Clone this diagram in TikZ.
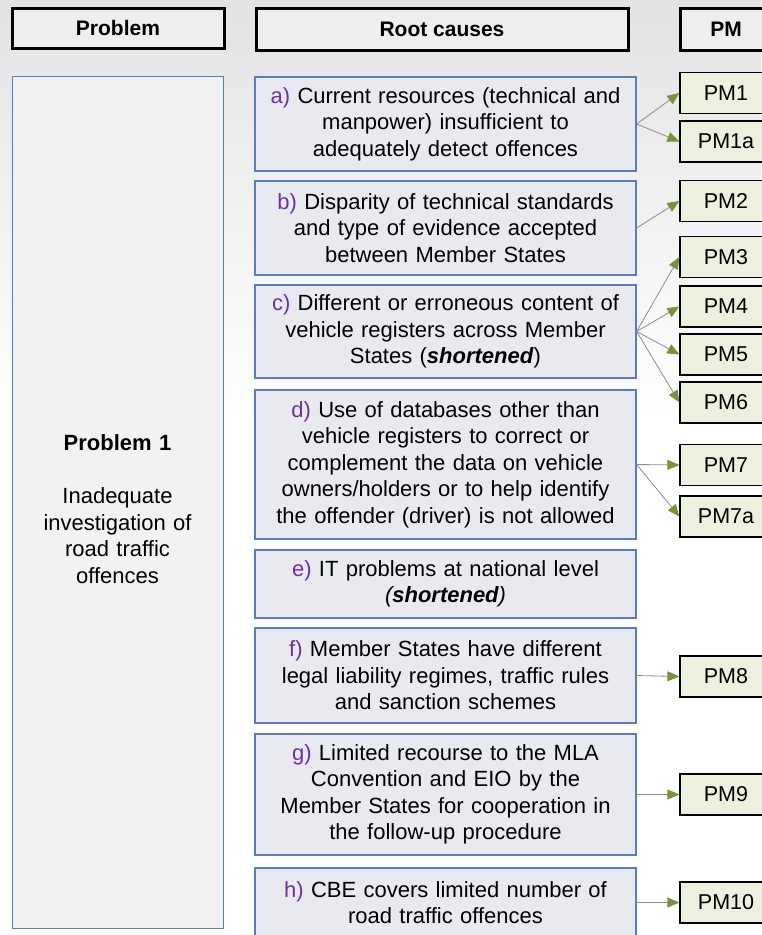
\documentclass[tikz,border=0pt]{standalone}
\usepackage{fontspec}
\setmainfont{Liberation Sans}
\usetikzlibrary{arrows.meta,positioning}

\definecolor{causeblue}{HTML}{5B7BC4}
\definecolor{causefill}{HTML}{E8EAF0}
\definecolor{probfill}{HTML}{F2F2F2}
\definecolor{pmfill}{HTML}{EBF1DE}
\definecolor{tipgreen}{HTML}{77933C}
\definecolor{letterpurple}{HTML}{7030A0}
\definecolor{headfill}{HTML}{EEEEEE}
\newcommand{\lbl}[1]{\textcolor{letterpurple}{#1)}}

\begin{document}
\begin{tikzpicture}[
    x=1pt, y=-1pt,
    header/.style={draw=black, line width=3pt, fill=headfill, inner sep=0pt, font=\fontsize{21}{24}\selectfont\bfseries},
    problem/.style={draw=causeblue, line width=1pt, fill=probfill, inner sep=0pt},
    probtext/.style={align=center, text width=200pt, inner sep=0pt, font=\fontsize{22}{26.5}\selectfont},
    cause/.style={draw=causeblue, line width=1.2pt, fill=causefill, align=center, inner xsep=4pt, inner ysep=0pt, text width=373pt, font=\fontsize{22}{26.5}\selectfont},
    pm/.style={draw=black, line width=1.2pt, fill=pmfill, minimum width=92pt, minimum height=41pt, inner sep=0pt, font=\fontsize{21.5}{24}\selectfont},
    link/.style={draw=black!45, line width=0.8pt, -{Triangle[length=12pt, width=10pt, color=tipgreen]}},
]

\useasboundingbox (0,0) rectangle (761,935);
\shade[top color=black!11, bottom color=white] (0,0) rectangle (761,420);

% Headers
\node[header, minimum width=212pt, minimum height=40pt] (hprob) at (118, 28) {Problem};
\node[header, minimum width=372pt, minimum height=42pt] (hcause) at (442, 29) {Root causes};
\node[header, minimum width=92pt, minimum height=42pt] (hpm) at (726, 29) {PM};

% Problem
\node[problem, minimum width=211pt, minimum height=852pt] (prob) at (117.5, 502) {};
\node[probtext] (probtxt) at ([yshift=-7pt]prob.center) {\textbf{Problem 1}\\[27pt] Inadequate\\ investigation of\\ road traffic\\ offences};

% Root causes
\node[cause, minimum height=94pt] (ca) at (445.5, 124) {\lbl{a} Current resources (technical and\\ manpower) insufficient to\\ adequately detect offences};
\node[cause, minimum height=94pt] (cb) at (445.5, 228) {\lbl{b} Disparity of technical standards\\ and type of evidence accepted\\ between Member States};
\node[cause, minimum height=93pt] (cc) at (445.5, 331.5) {\lbl{c} Different or erroneous content of\\ vehicle registers across Member\\ States (\textbf{\textit{shortened}})};
\node[cause, minimum height=149pt] (cd) at (445.5, 464.5) {\lbl{d} Use of databases other than\\ vehicle registers to correct or\\ complement the data on vehicle\\ owners/holders or to help identify\\ the offender (driver) is not allowed};
\node[cause, minimum height=68pt] (ce) at (445.5, 584) {\lbl{e} IT problems at national level\\ \textit{(\textbf{shortened})}};
\node[cause, minimum height=95pt] (cf) at (445.5, 675.5) {\lbl{f} Member States have different\\ legal liability regimes, traffic rules\\ and sanction schemes};
\node[cause, minimum height=121pt] (cg) at (445.5, 794.5) {\lbl{g} Limited recourse to the MLA\\ Convention and EIO by the\\ Member States for cooperation in\\ the follow-up procedure};
\node[cause, minimum height=69pt] (ch) at (445.5, 902.5) {\lbl{h} CBE covers limited number of\\ road traffic offences};

% Policy measures
\node[pm] (pm1) at (726, 93) {PM1};
\node[pm] (pm1a) at (726, 141.5) {PM1a};
\node[pm] (pm2) at (726, 201) {PM2};
\node[pm] (pm3) at (726, 257) {PM3};
\node[pm] (pm4) at (726, 306.5) {PM4};
\node[pm] (pm5) at (726, 354.5) {PM5};
\node[pm] (pm6) at (726, 402.5) {PM6};
\node[pm] (pm7) at (726, 465) {PM7};
\node[pm] (pm7a) at (726, 516.5) {PM7a};
\node[pm] (pm8) at (726, 676.5) {PM8};
\node[pm] (pm9) at (726, 794.5) {PM9};
\node[pm] (pm10) at (726, 902.5) {PM10};

% Links
\draw[link] (ca.east) -- (pm1.west);
\draw[link] (ca.east) -- (pm1a.west);
\draw[link] (cb.east) -- (pm2.west);
\draw[link] (cc.east) -- (pm3.west);
\draw[link] (cc.east) -- (pm4.west);
\draw[link] (cc.east) -- (pm5.west);
\draw[link] (cc.east) -- (pm6.west);
\draw[link] (cd.east) -- (pm7.west);
\draw[link] (cd.east) -- (pm7a.west);
\draw[link] (cf.east) -- (pm8.west);
\draw[link] (cg.east) -- (pm9.west);
\draw[link] (ch.east) -- (pm10.west);

\end{tikzpicture}
\end{document}
